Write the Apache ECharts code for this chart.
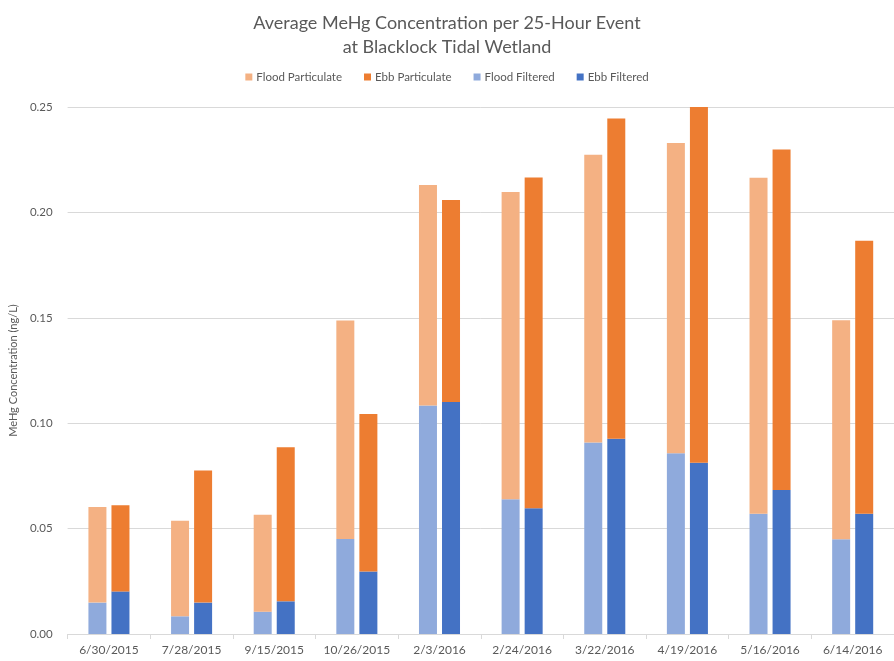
<!DOCTYPE html>
<html>
<head>
<meta charset="utf-8">
<script src="https://cdn.jsdelivr.net/npm/echarts@6/dist/echarts.min.js"></script>
<style>
  html, body { margin: 0; padding: 0; background: #ffffff; }
  #chart { width: 894px; height: 661px; }
</style>
</head>
<body>
<div id="chart"></div>
<script>
// Sampling events
const categories = ['6/30/2015', '7/28/2015', '9/15/2015', '10/26/2015', '2/3/2016',
                    '2/24/2016', '3/22/2016', '4/19/2016', '5/16/2016', '6/14/2016'];

// MeHg (ng/L), stacked: filtered at the bottom, particulate on top
const floodFiltered    = [0.0149, 0.0084, 0.0106, 0.0451, 0.1084, 0.0639, 0.0909, 0.0857, 0.0571, 0.0450];
const floodParticulate = [0.0454, 0.0453, 0.0460, 0.1036, 0.1046, 0.1458, 0.1365, 0.1472, 0.1593, 0.1038];
const ebbFiltered      = [0.0202, 0.0149, 0.0155, 0.0297, 0.1101, 0.0597, 0.0926, 0.0812, 0.0683, 0.0571];
const ebbParticulate   = [0.0409, 0.0627, 0.0731, 0.0747, 0.0958, 0.1569, 0.1519, 0.1688, 0.1615, 0.1295];

const yTicks = [0, 0.05, 0.10, 0.15, 0.20, 0.25];

const FONT = 'Lato, "Open Sans", sans-serif';
const TEXT = '#595959';

const chart = echarts.init(document.getElementById('chart'), null, { renderer: 'canvas' });

const barBase = { type: 'bar', barWidth: 18, barGap: '28%', emphasis: { disabled: true } };

chart.setOption({
  animation: false,
  backgroundColor: '#ffffff',
  title: {
    text: 'Average MeHg Concentration per 25-Hour Event\nat Blacklock Tidal Wetland',
    left: 'center',
    top: 6,
    textStyle: { fontFamily: FONT, fontSize: 18, fontWeight: 'normal', color: TEXT, lineHeight: 24 }
  },
  legend: {
    top: 66,
    left: 'center',
    itemWidth: 7,
    itemHeight: 7,
    itemGap: 22,
    icon: 'rect',
    data: ['Flood Particulate', 'Ebb Particulate', 'Flood Filtered', 'Ebb Filtered'],
    textStyle: { fontFamily: FONT, fontSize: 11.5, color: TEXT, padding: [0, 0, 0, -1] }
  },
  grid: { left: 63, top: 107, bottom: 27, width: 837, containLabel: false },
  xAxis: {
    type: 'category',
    data: categories,
    axisLine: { lineStyle: { color: '#d9d9d9', width: 1 } },
    axisTick: { show: true, length: 5, lineStyle: { color: '#d9d9d9' } },
    axisLabel: { interval: 0, fontFamily: FONT, fontSize: 12, color: TEXT, margin: 10 }
  },
  yAxis: {
    type: 'value',
    min: yTicks[0],
    max: yTicks[yTicks.length - 1],
    interval: 0.05,
    name: 'MeHg Concentration (ng/L)',
    nameLocation: 'middle',
    nameGap: 47,
    nameTextStyle: { fontFamily: FONT, fontSize: 11, color: TEXT },
    axisLine: { show: false },
    axisTick: { show: false },
    axisLabel: { fontFamily: FONT, fontSize: 11.5, color: TEXT, margin: 15,
                 formatter: v => v.toFixed(2) },
    splitLine: { lineStyle: { color: '#d9d9d9', width: 1 } }
  },
  series: [
    Object.assign({}, barBase, { name: 'Flood Filtered', stack: 'flood', data: floodFiltered,
      itemStyle: { color: '#8faadc' } }),
    Object.assign({}, barBase, { name: 'Ebb Filtered', stack: 'ebb', data: ebbFiltered,
      itemStyle: { color: '#4472c4' } }),
    Object.assign({}, barBase, { name: 'Flood Particulate', stack: 'flood', data: floodParticulate,
      itemStyle: { color: '#f4b183' } }),
    Object.assign({}, barBase, { name: 'Ebb Particulate', stack: 'ebb', data: ebbParticulate,
      itemStyle: { color: '#ed7d31' } })
  ]
});
</script>
</body>
</html>
